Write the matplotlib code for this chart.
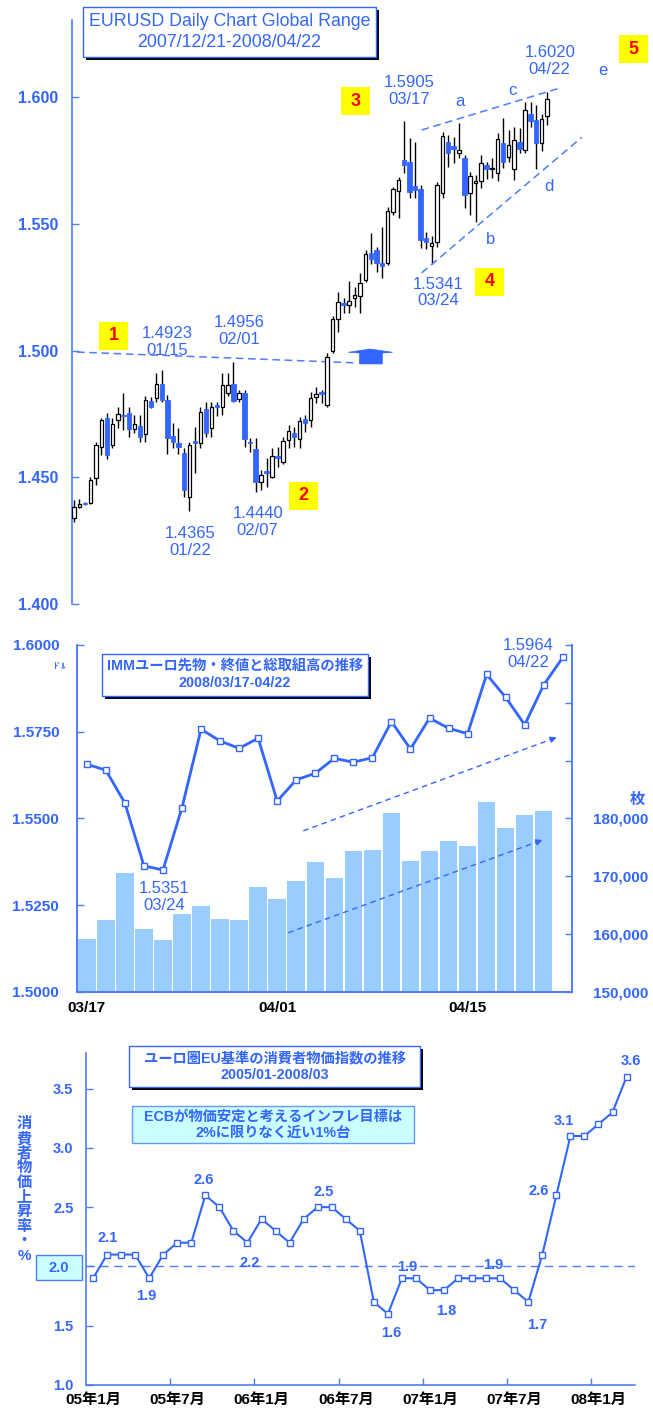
import numpy as np
import matplotlib.pyplot as plt
from matplotlib.patches import Rectangle, Polygon

plt.rcParams['font.family'] = ['Liberation Sans', 'Noto Sans CJK JP', 'DejaVu Sans']

BLUE = '#3366ff'
LINE = '#4d7cff'
BAR = '#99ccff'
CYAN = '#ccffff'

# EURUSD daily, 2007/12/21 - 2008/04/22
eur_open = [1.4338, 1.4383, 1.4400, 1.4398, 1.4496, 1.4618, 1.4733, 1.4628, 1.4726, 1.4746,
            1.4753, 1.4689, 1.4704, 1.4671, 1.4799, 1.4812, 1.4868, 1.4805, 1.4663, 1.4634,
            1.4595, 1.4424, 1.4643, 1.4634, 1.4768, 1.4693, 1.4785, 1.4778, 1.4831, 1.4868,
            1.4807, 1.4831, 1.4640, 1.4610, 1.4483, 1.4525, 1.4502, 1.4582, 1.4561, 1.4647,
            1.4673, 1.4651, 1.4729, 1.4726, 1.4815, 1.4838, 1.4785, 1.4999, 1.5123, 1.5189,
            1.5180, 1.5206, 1.5215, 1.5278, 1.5383, 1.5396, 1.5344, 1.5346, 1.5548, 1.5629,
            1.5750, 1.5745, 1.5649, 1.5636, 1.5443, 1.5413, 1.5430, 1.5620, 1.5821, 1.5807,
            1.5778, 1.5758, 1.5623, 1.5660, 1.5670, 1.5732, 1.5715, 1.5701, 1.5817, 1.5765,
            1.5718, 1.5824, 1.5791, 1.5935, 1.5909, 1.5817, 1.5925]
eur_high = [1.4411, 1.4413, 1.4402, 1.4503, 1.4641, 1.4733, 1.4753, 1.4733, 1.4776, 1.4831,
            1.4779, 1.4746, 1.4746, 1.4821, 1.4816, 1.4913, 1.4923, 1.4825, 1.4713, 1.4693,
            1.4615, 1.4641, 1.4700, 1.4779, 1.4798, 1.4798, 1.4798, 1.4910, 1.4910, 1.4956,
            1.4845, 1.4845, 1.4655, 1.4655, 1.4528, 1.4575, 1.4614, 1.4620, 1.4660, 1.4706,
            1.4700, 1.4739, 1.4746, 1.4838, 1.4857, 1.4845, 1.4990, 1.5136, 1.5232, 1.5206,
            1.5275, 1.5252, 1.5304, 1.5396, 1.5462, 1.5410, 1.5488, 1.5567, 1.5646, 1.5686,
            1.5905, 1.5837, 1.5824, 1.5653, 1.5469, 1.5450, 1.5666, 1.5863, 1.5850, 1.5843,
            1.5896, 1.5771, 1.5705, 1.5692, 1.5771, 1.5745, 1.5760, 1.5860, 1.5916, 1.5870,
            1.5883, 1.5876, 1.5982, 1.5982, 1.5968, 1.5935, 1.6020]
eur_low = [1.4325, 1.4378, 1.4390, 1.4395, 1.4470, 1.4588, 1.4571, 1.4615, 1.4693, 1.4687,
           1.4658, 1.4674, 1.4641, 1.4641, 1.4772, 1.4795, 1.4795, 1.4592, 1.4615, 1.4592,
           1.4424, 1.4365, 1.4516, 1.4615, 1.4660, 1.4660, 1.4740, 1.4746, 1.4820, 1.4795,
           1.4795, 1.4621, 1.4600, 1.4440, 1.4450, 1.4463, 1.4496, 1.4540, 1.4552, 1.4614,
           1.4620, 1.4614, 1.4680, 1.4700, 1.4792, 1.4792, 1.4778, 1.4989, 1.5074, 1.5150,
           1.5150, 1.5173, 1.5147, 1.5271, 1.5340, 1.5311, 1.5285, 1.5337, 1.5534, 1.5521,
           1.5700, 1.5600, 1.5600, 1.5403, 1.5400, 1.5341, 1.5410, 1.5600, 1.5725, 1.5738,
           1.5758, 1.5561, 1.5535, 1.5508, 1.5640, 1.5675, 1.5680, 1.5670, 1.5722, 1.5745,
           1.5672, 1.5780, 1.5778, 1.5880, 1.5715, 1.5788, 1.5889]
eur_close = [1.4384, 1.4394, 1.4394, 1.4490, 1.4628, 1.4726, 1.4586, 1.4709, 1.4750, 1.4740,
             1.4691, 1.4709, 1.4658, 1.4803, 1.4776, 1.4868, 1.4805, 1.4654, 1.4641, 1.4621,
             1.4450, 1.4628, 1.4634, 1.4759, 1.4676, 1.4778, 1.4776, 1.4864, 1.4864, 1.4802,
             1.4831, 1.4650, 1.4634, 1.4483, 1.4509, 1.4518, 1.4585, 1.4575, 1.4644, 1.4684,
             1.4657, 1.4723, 1.4713, 1.4811, 1.4828, 1.4828, 1.4976, 1.5123, 1.5193, 1.5180,
             1.5195, 1.5219, 1.5265, 1.5381, 1.5360, 1.5346, 1.5333, 1.5552, 1.5636, 1.5673,
             1.5732, 1.5627, 1.5633, 1.5436, 1.5430, 1.5426, 1.5653, 1.5846, 1.5780, 1.5797,
             1.5791, 1.5613, 1.5688, 1.5668, 1.5738, 1.5715, 1.5722, 1.5833, 1.5745, 1.5811,
             1.5830, 1.5797, 1.5948, 1.5907, 1.5817, 1.5912, 1.5991]

# IMM euro futures, 2008/03/17 - 04/22
imm_dates = ['03/17', '03/18', '03/19', '03/20', '03/24', '03/25', '03/26', '03/27', '03/28',
             '03/31', '04/01', '04/02', '04/03', '04/04', '04/07', '04/08', '04/09', '04/10',
             '04/11', '04/14', '04/15', '04/16', '04/17', '04/18', '04/21', '04/22']
imm_close = [1.5656, 1.5639, 1.5544, 1.5363, 1.5351, 1.5531, 1.5757, 1.5723, 1.5702, 1.5731,
             1.5550, 1.5611, 1.5630, 1.5673, 1.5662, 1.5675, 1.5779, 1.5700, 1.5789, 1.5760,
             1.5744, 1.5915, 1.5849, 1.5770, 1.5885, 1.5964]
# open interest, no figure yet for the last day
imm_oi = [159100, 162400, 170500, 160900, 158900, 163400, 164800, 162600, 162400, 168100,
          166000, 169200, 172400, 169600, 174300, 174500, 180900, 172600, 174300, 176100,
          175200, 182800, 178300, 180600, 181300]

# euro area HICP (EU basis), 2005/01 - 2008/03, % y/y
cpi_values = [1.9, 2.1, 2.1, 2.1, 1.9, 2.1, 2.2, 2.2, 2.6, 2.5, 2.3, 2.2,
              2.4, 2.3, 2.2, 2.4, 2.5, 2.5, 2.4, 2.3, 1.7, 1.6, 1.9, 1.9,
              1.8, 1.8, 1.9, 1.9, 1.9, 1.9, 1.8, 1.7, 2.1, 2.6, 3.1, 3.1,
              3.2, 3.3, 3.6]
cpi_ticklabels = ['05年1月', '05年7月', '06年1月', '06年7月', '07年1月', '07年7月', '08年1月']

W, H = 653, 1412
fig = plt.figure(figsize=(W / 100, H / 100), dpi=100)


def rect(x0, y0, x1, y1):
    # pixel box (origin top-left) -> figure fractions
    return [x0 / W, 1 - y1 / H, (x1 - x0) / W, (y1 - y0) / H]


def pbox(x0, y0, x1, y1, face='white', edge=BLUE, lw=1.0, shadow=False):
    if shadow:
        fig.add_artist(Rectangle(((x0 + 3) / W, 1 - (y1 + 3) / H), (x1 - x0) / W, (y1 - y0) / H,
                                 transform=fig.transFigure, facecolor='black', edgecolor='none'))
    fig.add_artist(Rectangle((x0 / W, 1 - y1 / H), (x1 - x0) / W, (y1 - y0) / H,
                             transform=fig.transFigure, facecolor=face, edgecolor=edge, lw=lw))


def ptext(x, y, s, **kw):
    kw.setdefault('ha', 'center')
    kw.setdefault('va', 'center')
    kw.setdefault('color', BLUE)
    fig.text(x / W, 1 - y / H, s, **kw)


def style_axes(ax, sides):
    for side, sp in ax.spines.items():
        sp.set_visible(side in sides)
        sp.set_color(LINE)
        sp.set_linewidth(1.2)
    ax.tick_params(colors=LINE, labelcolor=BLUE, direction='in', length=5, width=1)


# ---------------- top: EURUSD candles ----------------
ax1 = fig.add_axes(rect(72, 20, 640, 604))
style_axes(ax1, ['left'])
o, h, l, c = map(np.array, (eur_open, eur_high, eur_low, eur_close))
x = np.arange(len(o))
up = c >= o
ax1.vlines(x, l, h, color='black', lw=1, zorder=2)
ax1.bar(x[up], c[up] - o[up], bottom=o[up], width=0.7, color='white',
        edgecolor='black', lw=0.9, zorder=3)
ax1.bar(x[~up], o[~up] - c[~up], bottom=c[~up], width=0.85, color=BLUE,
        edgecolor=BLUE, lw=0.6, zorder=3)
ax1.set_xlim(-0.36, 102.9)
ax1.set_ylim(1.400, 1.6304)
yt = [1.40, 1.45, 1.50, 1.55, 1.60]
ax1.set_yticks(yt, [f'{v:.3f}' for v in yt], fontsize=11.5, fontweight='bold')
ax1.tick_params(axis='y', pad=10)
ax1.set_xticks([])

dash = dict(ls=(0, (5, 3)), color=LINE, lw=1.1)
ax1.plot([0.55, 51.6], [1.4994, 1.4951], **dash)
ax1.plot([63.2, 88.7], [1.5870, 1.6038], **dash)
ax1.plot([63.2, 92.3], [1.5306, 1.5841], **dash)
ax1.add_patch(Polygon([(49.9, 1.4993), (53.8, 1.5006), (57.9, 1.4993), (56.05, 1.4990),
                       (56.05, 1.4947), (51.9, 1.4947), (51.9, 1.4990)],
                      closed=True, facecolor=BLUE, edgecolor=BLUE, lw=0.5, zorder=4))

ann = dict(color=BLUE, fontsize=12, ha='center', va='center', linespacing=1.15)
ax1.text(17.0, 1.5034, '1.4923\n01/15', **ann)
ax1.text(30.1, 1.5077, '1.4956\n02/01', **ann)
ax1.text(21.2, 1.4245, '1.4365\n01/22', **ann)
ax1.text(33.4, 1.4322, '1.4440\n02/07', **ann)
ax1.text(60.9, 1.6024, '1.5905\n03/17', **ann)
ax1.text(66.2, 1.5229, '1.5341\n03/24', **ann)
ax1.text(86.5, 1.6142, '1.6020\n04/22', **ann)
for s, xi, yi in [('a', 70.2, 1.5981), ('b', 75.8, 1.5439), ('c', 79.7, 1.6025),
                  ('d', 86.4, 1.5646), ('e', 96.2, 1.6104)]:
    ax1.text(xi, yi, s, **ann)

for s, (x0, y0) in [('1', (99, 322)), ('2', (289, 482)), ('3', (341, 87)),
                    ('4', (475, 268)), ('5', (619, 35))]:
    pbox(x0, y0, x0 + 29, y0 + 28, face='#ffff00', edge='none')
    ptext(x0 + 14.5, y0 + 14, s, color='#ff0000', fontsize=13, fontweight='bold')

pbox(83, 7, 376, 57, shadow=True)
ptext(229.5, 32, 'EURUSD Daily Chart Global Range\n2007/12/21-2008/04/22',
      fontsize=12.8, linespacing=1.3)

# ---------------- middle: IMM futures ----------------
ax2 = fig.add_axes(rect(77.3, 645, 572.3, 991.7))
ax2r = ax2.twinx()
style_axes(ax2, ['left', 'bottom', 'right'])
style_axes(ax2r, ['left', 'bottom', 'right'])
ax2.set_zorder(ax2r.get_zorder() + 1)
ax2.patch.set_visible(False)

xi = np.arange(len(imm_dates))
ax2r.bar(xi[:len(imm_oi)], imm_oi, width=0.92, color=BAR, edgecolor='none')
ax2.plot(xi, imm_close, color=BLUE, lw=2, marker='s', ms=5, mfc='white', mec=BLUE, mew=1)

ax2.set_xlim(-0.5, 25.5)
ax2.set_ylim(1.5, 1.6)
ax2r.set_ylim(150000, 210000)
lt = [1.5, 1.525, 1.55, 1.575, 1.6]
ax2.set_yticks(lt, [f'{v:.4f}' for v in lt], fontsize=11, fontweight='bold')
ax2.tick_params(axis='y', pad=13)
rt = list(range(150000, 210001, 10000))
ax2r.set_yticks(rt, [f'{v:,}' if v <= 180000 else '' for v in rt], fontsize=11, fontweight='bold')
ax2r.tick_params(axis='y', pad=15)
ax2.set_xticks([9.5, 19.5])
ax2.set_xticklabels([])
ax2.set_xticks([0, 10, 20], [imm_dates[0], imm_dates[10], imm_dates[20]], minor=True,
               fontsize=11, fontweight='bold')
ax2.tick_params(axis='x', which='minor', length=0, pad=7)
ax2r.set_xticks([])

ax2.plot([11.37, 24.6], [1.5464, 1.5732], ls=(0, (4, 3)), color=BLUE, lw=1)
ax2.annotate('', xy=(24.82, 1.5736), xytext=(24.2, 1.5724),
             arrowprops=dict(arrowstyle='-|>', color=BLUE, lw=1, mutation_scale=9))
ax2.plot([10.58, 23.85], [1.5170, 1.5436], ls=(0, (4, 3)), color=BLUE, lw=1)
ax2.annotate('', xy=(24.07, 1.5440), xytext=(23.45, 1.5428),
             arrowprops=dict(arrowstyle='-|>', color=BLUE, lw=1, mutation_scale=9))

ax2.text(4.05, 1.5272, '1.5351\n03/24', **ann)
ax2.text(23.17, 1.5974, '1.5964\n04/22', **ann)

pbox(102, 654, 368, 696, shadow=True)
ptext(235, 675, 'IMMユーロ先物・終値と総取組高の推移\n2008/03/17-04/22',
      fontsize=10.3, fontweight='bold', linespacing=1.25)
ptext(637, 800, '枚', fontsize=11, fontweight='bold')
ptext(60, 667, 'ﾄﾞﾙ', fontsize=6, fontweight='bold')

# ---------------- bottom: HICP ----------------
ax3 = fig.add_axes(rect(86, 1053, 635, 1385))
style_axes(ax3, ['left', 'bottom'])
xc = np.arange(len(cpi_values))
ax3.axhline(2.0, ls=(0, (6, 4)), color=LINE, lw=1)
ax3.plot(xc, cpi_values, color=BLUE, lw=1.5, marker='s', ms=4.5, mfc='white', mec=BLUE, mew=1)
ax3.set_xlim(-0.5, 38.6)
ax3.set_ylim(1.0, 3.8)
ct = [1.0, 1.5, 2.0, 2.5, 3.0, 3.5]
ax3.set_yticks(ct, ['' if v == 2.0 else f'{v:.1f}' for v in ct], fontsize=10.5, fontweight='bold')
ax3.tick_params(axis='y', pad=9)
ax3.set_xticks([5.5, 11.5, 17.5, 23.5, 29.5, 35.5])
ax3.set_xticklabels([])
ax3.set_xticks(xc[::6], cpi_ticklabels, minor=True, fontsize=11, fontweight='bold')
ax3.tick_params(axis='x', which='minor', length=0, pad=6)

lab = dict(color=BLUE, fontsize=10.5, fontweight='bold', ha='center', va='center')
for s, xi_, yi_ in [('2.1', 1.07, 2.237), ('1.9', 3.77, 1.749), ('2.6', 7.9, 2.73),
                    ('2.2', 11.18, 2.027), ('2.5', 16.4, 2.629), ('1.6', 21.27, 1.438),
                    ('1.9', 22.41, 1.991), ('1.8', 25.17, 1.623), ('1.9', 28.49, 2.01),
                    ('1.7', 31.65, 1.505), ('2.6', 31.73, 2.639), ('3.1', 33.53, 3.225),
                    ('3.6', 38.3, 3.736)]:
    ax3.text(xi_, yi_, s, **lab)

pbox(36, 1255, 81.7, 1280, face=CYAN, edge=LINE)
ptext(59, 1267.5, '2.0', fontsize=10.5, fontweight='bold')
ptext(24, 1190, '\n'.join('消費者物価上昇率・%'), fontsize=11, fontweight='bold', linespacing=1.05)

pbox(129.3, 1046, 420, 1087, shadow=True)
ptext(274.6, 1067, 'ユーロ圏EU基準の消費者物価指数の推移\n2005/01-2008/03',
      fontsize=10.3, fontweight='bold', linespacing=1.2)
pbox(131.7, 1106, 414, 1143, face=CYAN, edge='#6699ff')
ptext(273, 1125, 'ECBが物価安定と考えるインフレ目標は\n2%に限りなく近い1%台',
      fontsize=10.3, fontweight='bold', linespacing=1.2)

fig.savefig('out.png', dpi=100)
